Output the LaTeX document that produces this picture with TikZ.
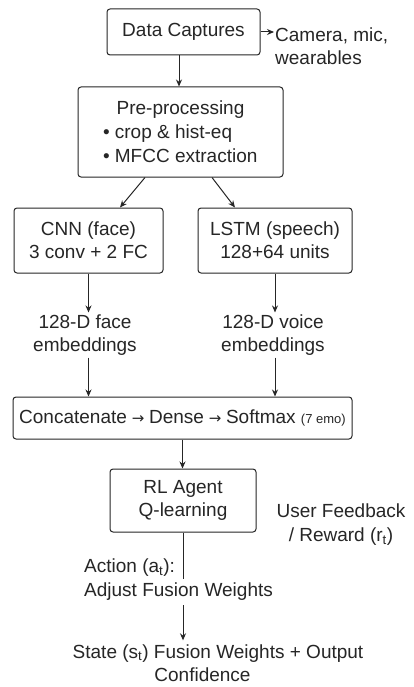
\documentclass[tikz,border=0pt]{standalone}
\usepackage{fontspec}
\setmainfont{Liberation Sans}
\newfontfamily\dejavu{DejaVu Sans}
\usetikzlibrary{arrows.meta}
\newcommand{\sarr}{\hspace{5pt}{\dejavu\fontsize{15}{15}\selectfont→}\hspace{4.5pt}}
\begin{document}
\begin{tikzpicture}[x=1pt,y=-1pt,
  every node/.style={font=\fontsize{19}{23}\selectfont, text=black!85},
  box/.style={draw=black!85, line width=1pt, rounded corners=3pt, align=center, inner sep=2pt},
  lbl/.style={align=center, inner sep=2pt},
  arr/.style={line width=1pt, draw=black!85, -{Stealth[length=7pt,width=6pt]}},
  ln/.style={line width=1pt, draw=black!85}]
\path[use as bounding box, fill=white] (0,0) rectangle (414,687);

\node[box, minimum width=153pt, minimum height=46pt] (cap) at (183.5,32) {Data Captures};
\node[lbl, anchor=west, align=left] (cam) at (273,46) {Camera, mic,\\wearables};
\node[box, minimum width=205pt, minimum height=90pt] (pre) at (180.5,132)
  {Pre-processing\\[1pt]\makebox[155pt][l]{• crop \& hist-eq}\\[1pt]\makebox[155pt][l]{• MFCC extraction}};
\node[box, minimum width=149pt, minimum height=65pt] (cnn) at (88.5,240.5) {CNN (face)\\3 conv + 2 FC};
\node[box, minimum width=154pt, minimum height=65pt] (lstm) at (275,240.5) {LSTM (speech)\\128+64 units};
\node[lbl] (face) at (85,335) {128-D face\\embeddings};
\node[lbl] (voice) at (273,335) {128-D voice\\embeddings};
\node[box, minimum width=339pt, minimum height=42pt] (cat) at (182.5,418)
  {Concatenate\sarr Dense\sarr Softmax {\fontsize{13}{15}\selectfont (7 emo)}};
\node[box, minimum width=146pt, minimum height=63pt] (rl) at (183,500.5) {RL Agent\\Q-learning};
\node[lbl, text depth=0pt] (fb) at (341,523) {User Feedback\\[1pt]/ Reward (r\textsubscript{t})};

\draw[arr] (cap.east) -- ([xshift=1pt]cam.west |- cap.east);
\draw[arr] (cap.south) ++(-4.5,0) coordinate (capb) -- (capb |- pre.north);
\draw[arr] ([xshift=-35.5pt]pre.south) -- ([xshift=31.5pt]cnn.north);
\draw[arr] ([xshift=31.5pt]pre.south) -- ([xshift=-40pt]lstm.north);
\draw[arr] (cnn.south) -- (cnn.south |- face.north);
\draw[arr] (lstm.south) -- (lstm.south |- voice.north);
\draw[arr] (cnn.south |- face.south) -- (cnn.south |- cat.north);
\draw[arr] (lstm.south |- voice.south) -- (lstm.south |- cat.north);
\draw[arr] (cat.south) -- (cat.south |- rl.north);

\node[lbl, align=center] (st) at (218,663) {State (s\textsubscript{t}) Fusion Weights + Output\\Confidence\hspace*{31pt}};
\draw[arr] (rl.south) -- ([yshift=2pt]rl.south |- st.north);
\node[lbl, anchor=west] (act) at (82,568) {Action (a\textsubscript{t}):};
\node[lbl, anchor=west, fill=white, inner ysep=4pt] (adj) at (82,592) {Adjust Fusion Weights};
\end{tikzpicture}
\end{document}
